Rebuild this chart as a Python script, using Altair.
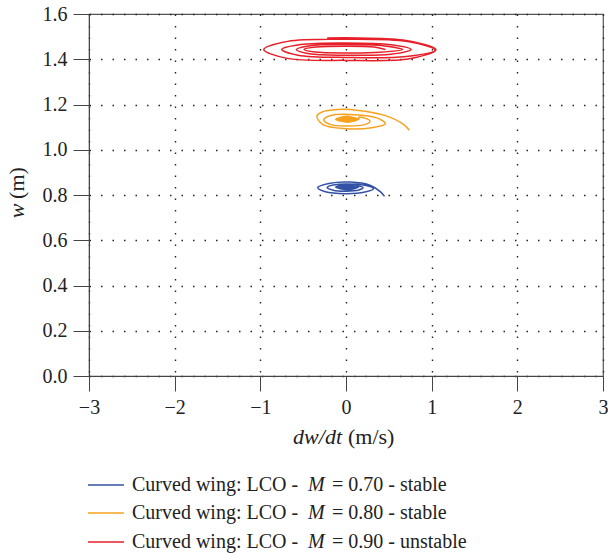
import altair as alt
import pandas as pd

# Phase-plane trajectories (dw/dt, w) for the curved wing at three Mach numbers
blue_dwdt = [0.45, 0.40, 0.28, 0.05, -0.20, -0.33, -0.24, 0.00, 0.22, 0.32, 0.22, 0.00, -0.15, -0.22,
             -0.15, 0.00, 0.15, 0.20, 0.12,
             0.15, 0.02, -0.12, 0.02, 0.14, 0.02, -0.11, 0.02, 0.13, 0.02, -0.10, 0.02,
             0.12, 0.02, -0.09, 0.02, 0.11, 0.02, -0.08, 0.02, 0.10, 0.02, -0.07, 0.02, 0.09]
blue_w = [0.794, 0.815, 0.843, 0.857, 0.851, 0.833, 0.814, 0.806, 0.813, 0.828, 0.843, 0.849, 0.844, 0.833,
          0.821, 0.817, 0.822, 0.833, 0.842,
          0.835, 0.847, 0.835, 0.823, 0.835, 0.845, 0.835, 0.825, 0.835, 0.843, 0.835, 0.827,
          0.835, 0.842, 0.835, 0.828, 0.835, 0.840, 0.835, 0.830, 0.835, 0.838, 0.835, 0.832, 0.835]

orange_dwdt = [0.74, 0.66, 0.45, 0.15, -0.10, -0.28, -0.34, -0.27, 0.00, 0.30, 0.46, 0.36, 0.05, -0.18,
               -0.26, -0.18, 0.00, 0.22, 0.28, 0.15,
               0.15, 0.02, -0.12, 0.02, 0.14, 0.02, -0.11, 0.02, 0.13, 0.02, -0.10, 0.02,
               0.12, 0.02, -0.09, 0.02, 0.11, 0.02, -0.08, 0.02, 0.10, 0.02, -0.07, 0.02, 0.09]
orange_w = [1.086, 1.115, 1.152, 1.174, 1.178, 1.167, 1.149, 1.111, 1.093, 1.097, 1.115, 1.141, 1.156, 1.151,
            1.131, 1.111, 1.105, 1.111, 1.128, 1.144,
            1.135, 1.148, 1.135, 1.122, 1.135, 1.146, 1.135, 1.124, 1.135, 1.144, 1.135, 1.126,
            1.135, 1.142, 1.135, 1.128, 1.135, 1.140, 1.135, 1.130, 1.135, 1.138, 1.135, 1.132, 1.135]

red_dwdt = [0.46, 0.33, 0.00, -0.35, -0.49, -0.36, 0.00, 0.40,
            0.66, 0.45, 0.00, -0.42, -0.58, -0.43, 0.00, 0.52,
            0.76, 0.53, 0.00, -0.53, -0.75, -0.56, 0.00, 0.70,
            1.04, 0.72, 0.00, -0.68, -0.96, -0.70, 0.00, 0.74,
            1.05, 0.70, 0.15, -0.22]
red_w = [1.443, 1.454, 1.458, 1.454, 1.443, 1.432, 1.428, 1.431,
         1.443, 1.459, 1.465, 1.460, 1.443, 1.424, 1.418, 1.422,
         1.443, 1.464, 1.472, 1.465, 1.443, 1.418, 1.408, 1.412,
         1.441, 1.478, 1.488, 1.479, 1.443, 1.405, 1.395, 1.402,
         1.442, 1.483, 1.494, 1.494]

series_names = ["M070", "M080", "M090"]
series_colors = ["#3352a6", "#f7a21e", "#e61f29"]
legend_prefix = "Curved wing: LCO - "
legend_symbol = "M"
legend_suffix = ["= 0.70 - stable", "= 0.80 - stable", "= 0.90 - unstable"]

x_ticks = [-3, -2, -1, 0, 1, 2, 3]
y_ticks = [0.0, 0.2, 0.4, 0.6, 0.8, 1.0, 1.2, 1.4, 1.6]

rows = []
for name, xs, ys in zip(series_names, [blue_dwdt, orange_dwdt, red_dwdt], [blue_w, orange_w, red_w]):
    for i, (xv, yv) in enumerate(zip(xs, ys)):
        rows.append({"series": name, "idx": i, "dwdt": xv, "w": yv})
df = pd.DataFrame(rows)

FONT = "Liberation Serif"
INK = "#222"
W, H = 514, 362

axis_style = dict(title=None, labelFont=FONT, labelFontSize=20, labelColor=INK,
                  gridDash=[1.5, 10], gridColor="#222", gridWidth=1.4,
                  domainColor="#444", tickColor="#444", labelFlush=False)

lines = alt.Chart(df).mark_line(interpolate="catmull-rom", strokeWidth=1.5).encode(
    x=alt.X("dwdt:Q", scale=alt.Scale(domain=[-3, 3], nice=False),
            axis=alt.Axis(values=x_ticks, format="d", tickSize=15, labelPadding=6, **axis_style)),
    y=alt.Y("w:Q", scale=alt.Scale(domain=[0, 1.6], nice=False),
            axis=alt.Axis(values=y_ticks, format=".1f", tickSize=16, labelPadding=6, **axis_style)),
    color=alt.Color("series:N", scale=alt.Scale(domain=series_names, range=series_colors), legend=None),
    detail="series:N",
    order="idx:Q",
)

one = pd.DataFrame({"k": [0]})
layers = [lines]


def label(text, x, y, size=20, italic=False, align="left", angle=0):
    opts = dict(text=text, font=FONT, fontSize=size, align=align, baseline="middle", color=INK)
    if italic:
        opts["fontStyle"] = "italic"
    if angle:
        opts["angle"] = angle
    return alt.Chart(one).mark_text(**opts).encode(x=alt.value(x), y=alt.value(y))


# axis titles with mixed italic / upright text
layers.append(label("dw/dt", 253, 423, size=22, italic=True, align="right"))
layers.append(label("(m/s)", 259, 423, size=22))
layers.append(label("w", -72, 197, size=22, italic=True, align="center", angle=270))
layers.append(label("(m)", -72, 169, size=22, align="center", angle=270))

# legend drawn below the plot
row_y = [471, 499, 528]
for color, suffix, yy in zip(series_colors, legend_suffix, row_y):
    layers.append(alt.Chart(one).mark_rule(color=color, strokeWidth=1.5)
                  .encode(x=alt.value(-1), x2=alt.value(35), y=alt.value(yy)))
    layers.append(label(legend_prefix, 43, yy))
    layers.append(label(legend_symbol, 219, yy, italic=True))
    layers.append(label(suffix, 243, yy))

chart = alt.layer(*layers).properties(
    width=W, height=H,
    autosize=alt.AutoSizeParams(type="none"),
    padding={"left": 89, "top": 14, "right": 5, "bottom": 177},
    background="white",
).configure_view(
    stroke="#555", strokeWidth=1.2
).configure_axis(
    labelFont=FONT
).configure_text(
    font=FONT
)

chart.save("out.html", embed_options={"renderer": "svg", "actions": False})
